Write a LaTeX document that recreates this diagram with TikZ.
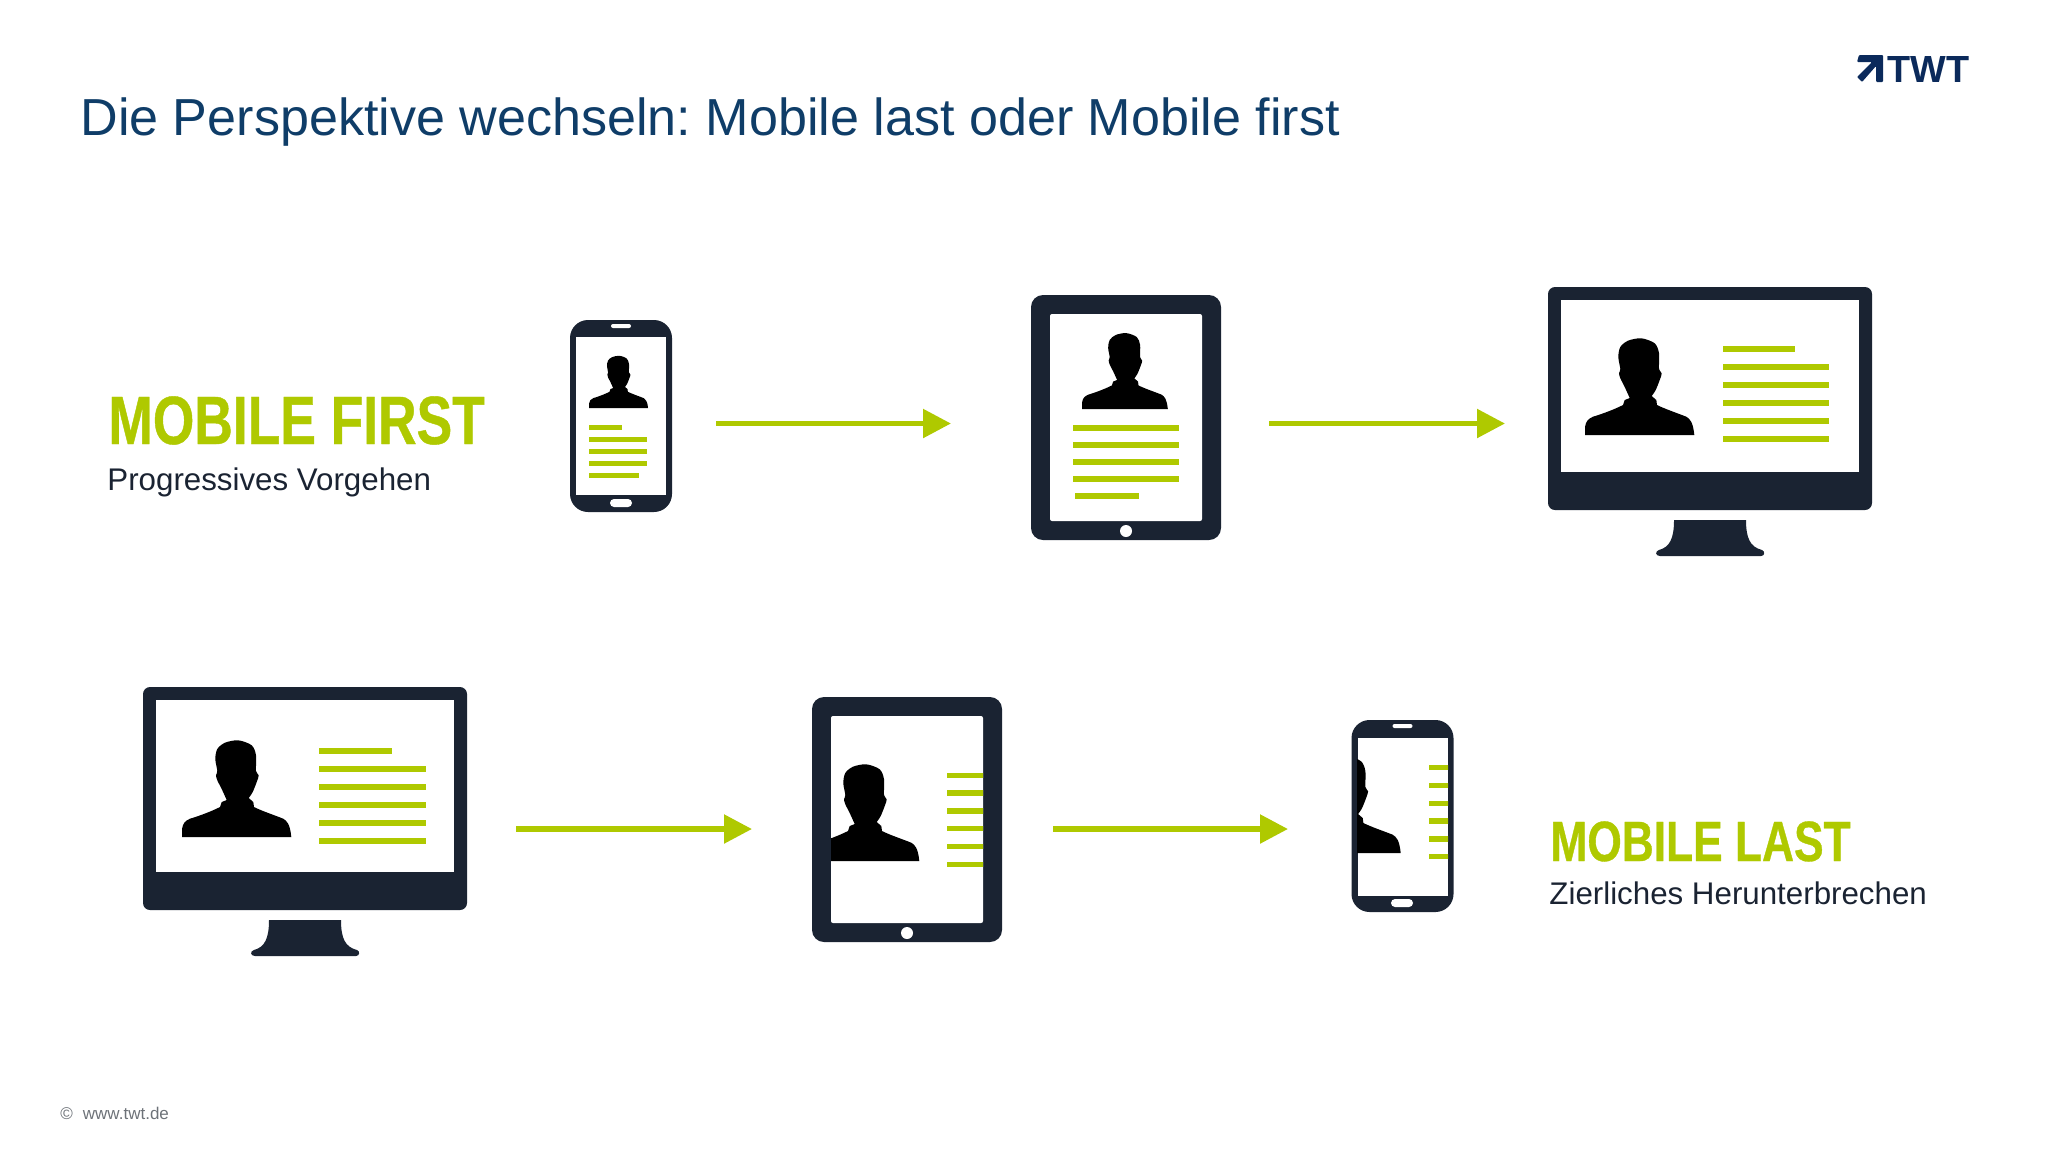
\documentclass[tikz,border=0pt]{standalone}
\usepackage{fontspec}
\usepackage{xcolor}
\usetikzlibrary{arrows.meta,positioning}
\setmainfont{Liberation Sans}
\newfontfamily\headfont[FakeStretch=0.78,FakeBold=0.6]{Liberation Sans}
\definecolor{devicenavy}{HTML}{1A2332}
\definecolor{mobilegreen}{HTML}{AFC900}
\definecolor{titleblue}{HTML}{0F3D68}
\definecolor{logoblue}{HTML}{0B2A5B}
\definecolor{footgrey}{HTML}{6D7278}
\frenchspacing
\begin{document}
\begin{tikzpicture}[
    x=0.5pt, y=-0.5pt,
    body/.style={fill=devicenavy, inner sep=0pt, outer sep=0pt},
    phonebody/.style={body, rounded corners=9pt, minimum width=51pt, minimum height=96pt},
    tabletbody/.style={body, rounded corners=6pt, minimum width=95pt, minimum height=122.5pt},
    monitorbody/.style={body, rounded corners=3.5pt, minimum width=162pt, minimum height=111.5pt},
    screenbox/.style={fill=white, inner sep=0pt, outer sep=0pt},
    phonescreen/.style={screenbox, minimum width=45pt, minimum height=79pt},
    tabletscreen/.style={screenbox, rounded corners=1pt, minimum width=76pt, minimum height=103.5pt},
    monitorscreen/.style={screenbox, minimum width=149pt, minimum height=86pt},
    speakerbox/.style={screenbox, rounded corners=1pt, minimum width=10pt, minimum height=2pt},
    homebox/.style={screenbox, rounded corners=2pt, minimum width=11pt, minimum height=4pt},
    homedot/.style={screenbox, circle, minimum size=6pt},
    txtline/.style={mobilegreen, line width=2.65pt},
    arr/.style={-{Triangle[length=14pt,width=14pt]}, mobilegreen, line width=2.7pt},
    headline/.style={anchor=base west, inner sep=0pt, mobilegreen},
    subline/.style={anchor=base west, inner sep=0pt, devicenavy, font=\fontsize{15.65}{18}\selectfont},
    person/.pic={
        \fill[black] (0,0) -- (0,-8) .. controls (1,-14) and (3,-16) .. (8,-18.3)
            .. controls (20,-22) and (30,-26) .. (38,-30) -- (39.7,-35) -- (44.7,-37)
            -- plot[smooth] coordinates {(44.7,-37) (39.7,-48) (35.3,-56.7) (34,-61.7) (35.3,-66) (33.3,-78) (35.3,-88) (43,-94.3) (56.3,-96.7) (69.7,-91.7) (74,-81.7) (74,-66) (76.7,-61.7) (74.7,-55) (70.7,-45) (66.7,-39)}
            -- (71.3,-35) -- (72,-30) .. controls (80,-26) and (92,-22) .. (101.3,-18.3)
            .. controls (105,-16) and (108,-13) .. (109.3,0) -- cycle;
    },
    stand/.pic={
        \fill[devicenavy] (-36,0) -- (36,0) .. controls (36,18) and (40,27) .. (52,30)
            .. controls (55,31) and (55,36) .. (51,36) -- (-50,36)
            .. controls (-55,36) and (-55,31) .. (-51,30)
            .. controls (-40,27) and (-36,18) .. (-36,0) -- cycle;
    }
]
\useasboundingbox (0,0) rectangle (2048,1153);

\node[anchor=base west, inner sep=0pt, titleblue, font=\fontsize{26.05}{30}\selectfont] (title) at (80,135) {Die Perspektive wechseln: Mobile last oder Mobile first};
\fill[logoblue, rounded corners=0.5pt] (1859,55) -- (1883,55) -- (1883,82) -- (1876,82) -- (1876,66) -- (1862,82) -- (1857,77) -- (1872,62) -- (1857,62) -- cycle;
\node[anchor=base west, inner sep=0pt, logoblue, font=\fontsize{18.9}{22}\selectfont\bfseries] (logo) at (1887,82) {TWT};
\node[anchor=base west, inner sep=0pt, footgrey, font=\fontsize{8.5}{10}\selectfont] (foot) at (60,1119) {©\hspace{5pt}www.twt.de};

\node[headline, font=\fontsize{34.2}{40}\selectfont\headfont\bfseries] (firsthead) at (108,444) {MOBILE FIRST};
\node[subline] (firstsub) at (107,490.5) {Progressives Vorgehen};
\node[headline, font=\fontsize{28.4}{34}\selectfont\headfont\bfseries] (lasthead) at (1550,861) {MOBILE LAST};
\node[subline] (lastsub) at (1549,904) {Zierliches Herunterbrechen};

\node[phonebody] (phone1) at (621,416) {};
\node[phonescreen] (phone1screen) at (621,416) {};
\node[speakerbox] (phone1speaker) at (621,326) {};
\node[homebox] (phone1home) at (621,503) {};
\pic[scale=0.54] at (589,408) {person};
\foreach \y/\w in {427.3/622,439.3/647,451.3/647,463.3/647,475.3/639}
    \draw[txtline] (589,\y) -- (\w,\y);

\node[tabletbody] (tablet1) at (1126,417.5) {};
\node[tabletscreen] (tablet1screen) at (1126,417.5) {};
\node[homedot] (tablet1home) at (1126,531) {};
\pic[scale=0.785] at (1082,409) {person};
\foreach \y in {428,445,462,479}
    \draw[txtline] (1073,\y) -- (1179,\y);
\draw[txtline] (1075,496) -- (1139,496);

\node[monitorbody] (monitor1) at (1710,398.5) {};
\node[monitorscreen] (monitor1screen) at (1710,386) {};
\pic at (1710,520) {stand};
\pic at (1585,435) {person};
\foreach \y/\w in {349/1795,367/1829,385/1829,403/1829,421/1829,439/1829}
    \draw[txtline] (1723,\y) -- (\w,\y);

\node[monitorbody] (monitor2) at (305,798.5) {};
\node[monitorscreen] (monitor2screen) at (305,786) {};
\pic at (305,920) {stand};
\pic at (182,837) {person};
\foreach \y/\w in {751/392,769/426,787/426,805/426,823/426,841/426}
    \draw[txtline] (319,\y) -- (\w,\y);

\node[tabletbody] (tablet2) at (907,819.5) {};
\node[tabletscreen] (tablet2screen) at (907,819.5) {};
\node[homedot] (tablet2home) at (907,933) {};
\begin{scope}
\clip (831,717) rectangle (983,922);
\pic at (810,861) {person};
\foreach \y in {775.3,793,811,828.7,846.7,864.7}
    \draw[txtline] (947,\y) -- (1000,\y);
\end{scope}

\node[phonebody] (phone2) at (1402.5,816) {};
\node[phonescreen] (phone2screen) at (1402.5,816.5) {};
\node[speakerbox] (phone2speaker) at (1402.5,726) {};
\node[homebox] (phone2home) at (1402,903) {};
\begin{scope}
\clip (1357,737) rectangle (1448,896);
\pic at (1291.4,853) {person};
\foreach \y in {767.7,785.3,803.3,821,839,856.7}
    \draw[txtline] (1429,\y) -- (1460,\y);
\end{scope}

\coordinate (a1s) at (716,423.5);
\coordinate (a1e) at (951,423.5);
\coordinate (a2s) at (1269,423.5);
\coordinate (a2e) at (1505,423.5);
\coordinate (a3s) at (516,829);
\coordinate (a3e) at (752,829);
\coordinate (a4s) at (1053,829);
\coordinate (a4e) at (1288,829);
\draw[arr] (a1s) -- (a1e);
\draw[arr] (a2s) -- (a2e);
\draw[arr] (a3s) -- (a3e);
\draw[arr] (a4s) -- (a4e);
\end{tikzpicture}
\end{document}
